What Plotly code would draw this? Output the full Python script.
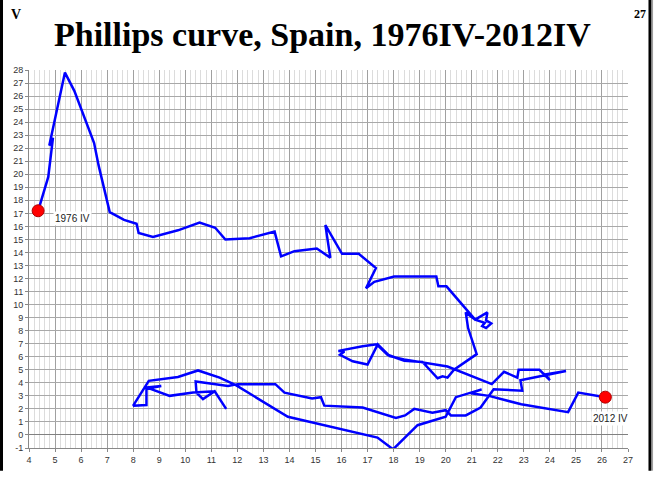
import plotly.graph_objects as go

# Unemployment rate (x) and inflation rate (y), 1976IV-2012IV path
unemployment = [
    4.35, 4.74, 4.92, 4.78, 5.38, 5.74, 6.50, 6.67, 7.10, 7.65, 8.13, 8.21, 8.76, 9.72,
    10.55, 11.15, 11.54, 12.47, 13.43, 13.68, 14.19, 15.05, 15.57, 15.38, 16.02, 16.66,
    17.32, 16.94, 17.26, 18.02, 19.64, 19.72, 20.03, 21.13, 21.60, 21.55, 21.75, 21.55,
    21.40, 21.50, 21.13, 20.77, 20.86, 21.19, 20.32, 20.07, 19.88, 19.69, 19.11, 18.41,
    17.77, 17.35, 16.81, 16.30, 15.88, 16.11, 15.94, 16.43, 17.00, 17.39, 17.85, 18.40,
    19.15, 20.07, 21.77, 22.24, 22.75, 22.80, 23.60, 24.00, 23.83, 24.62, 22.87, 22.94,
    21.84, 21.34, 20.77, 20.20, 20.00, 19.49, 18.79, 18.44, 18.09, 16.81, 15.34, 15.21,
    14.87, 13.81, 13.46, 12.02, 11.64, 10.40, 10.43, 10.68, 11.13, 11.57, 11.13, 10.30,
    9.40, 8.51, 9.08, 8.51, 8.51, 8.00, 8.60, 9.72, 10.49, 11.32, 11.96, 13.94, 17.38,
    17.98, 18.92, 20.00, 20.39, 21.38, 20.96, 21.66, 22.90, 24.70, 25.09, 26.13,
]
inflation = [
    17.2, 19.8, 22.8, 22.2, 27.8, 26.4, 22.4, 20.7, 17.1, 16.5, 16.2, 15.5, 15.2, 15.7,
    16.3, 15.9, 15.0, 15.1, 15.6, 13.7, 14.1, 14.3, 13.6, 16.1, 13.9, 13.9,
    12.8, 11.25, 11.75, 12.15, 12.15, 11.4, 11.4, 8.85, 9.4, 8.8, 8.55, 8.2,
    8.35, 8.6, 8.85, 9.4, 8.2, 6.2, 5.0, 4.4, 4.5, 4.35, 5.6, 5.7,
    6.15, 6.95, 6.8, 6.6, 6.45, 6.4, 6.15, 5.65, 5.4, 6.95, 6.05, 5.8,
    5.55, 5.25, 3.9, 4.85, 4.4, 5.0, 5.0, 4.2, 4.65, 4.9, 4.2, 3.4,
    3.5, 2.1, 1.5, 1.5, 1.9, 1.7, 2.0, 1.5, 1.3, 2.1, 2.25, 2.9,
    2.8, 3.25, 3.9, 3.9, 3.75, 4.1, 3.25, 2.75, 3.35, 2.0, 3.35, 3.25,
    3.0, 3.65, 3.75, 3.55, 2.3, 2.25, 4.15, 4.45, 4.95, 4.4, 3.8, 1.4, -0.2,
    -1.1, 0.75, 1.4, 2.9, 3.5, 3.2, 3.0, 2.35, 1.75, 3.25, 2.9,
]
end_labels = ["1976 IV", "2012 IV"]
x_ticks = list(range(4, 28))
y_ticks = list(range(-1, 29))

fig = go.Figure()
fig.add_trace(go.Scatter(
    x=unemployment, y=inflation, mode="lines",
    line=dict(color="#0000FF", width=2.5), hoverinfo="skip", showlegend=False,
))
fig.add_trace(go.Scatter(
    x=[unemployment[0], unemployment[-1]], y=[inflation[0], inflation[-1]],
    mode="markers",
    marker=dict(color="#FF0000", size=12, line=dict(color="#B00000", width=1)),
    showlegend=False, hoverinfo="skip",
))

label_font = dict(family="Liberation Sans, Arial", size=10, color="#222")
fig.add_annotation(x=unemployment[0], y=inflation[0], text=end_labels[0], showarrow=False,
                   xanchor="left", yanchor="middle", xshift=15, yshift=-8,
                   font=label_font, bgcolor="white")
fig.add_annotation(x=unemployment[-1], y=inflation[-1], text=end_labels[1], showarrow=False,
                   xanchor="center", yanchor="middle", xshift=5, yshift=-21,
                   font=label_font, bgcolor="white")

# Title and page markers (paper coords: plot spans x 29..628 px, y 70..455 px)
fig.add_annotation(xref="paper", yref="paper", x=0.49, y=1.095, xanchor="center", yanchor="middle",
                   text="<b>Phillips curve, Spain, 1976IV-2012IV</b>", showarrow=False,
                   font=dict(family="Liberation Serif, serif", size=34, color="black"))
fig.add_annotation(xref="paper", yref="paper", x=-0.022, y=1.147, xanchor="center", yanchor="middle",
                   text="<b>V</b>", showarrow=False,
                   font=dict(family="Liberation Serif, serif", size=14, color="black"))
fig.add_annotation(xref="paper", yref="paper", x=1.02, y=1.149, xanchor="center", yanchor="middle",
                   text="<b>27</b>", showarrow=False,
                   font=dict(family="Liberation Serif, serif", size=12, color="black"))

# side frame lines
fig.add_shape(type="line", xref="paper", yref="paper", x0=-0.0459, x1=-0.0459, y0=-0.06, y1=1.19,
              line=dict(color="black", width=3), layer="above")
fig.add_shape(type="line", xref="paper", yref="paper", x0=1.0367, x1=1.0367, y0=-0.06, y1=1.19,
              line=dict(color="black", width=3), layer="above")
fig.add_shape(type="line", xref="paper", yref="paper", x0=1.041, x1=1.041, y0=-0.06, y1=1.19,
              line=dict(color="#999", width=1), layer="above")

tick_font = dict(family="Liberation Sans, Arial", size=9, color="#333")
fig.update_xaxes(
    range=[4, 27], tickmode="array", tickvals=x_ticks, ticktext=[str(v) for v in x_ticks],
    showgrid=True, gridcolor="#A0A0A0", gridwidth=1,
    minor=dict(dtick=0.2, tick0=4, showgrid=True, gridcolor="#DCDCDC", gridwidth=1),
    zeroline=False, showline=True, linecolor="#888", linewidth=1,
    ticks="outside", ticklen=3, tickcolor="#888", tickfont=tick_font,
)
fig.update_yaxes(
    range=[-1, 28], tickmode="array", tickvals=y_ticks, ticktext=[str(v) for v in y_ticks],
    showgrid=True, gridcolor="#A8A8A8", gridwidth=1,
    zeroline=True, zerolinecolor="#808080", zerolinewidth=1,
    showline=True, linecolor="#888", linewidth=1,
    ticks="outside", ticklen=3, tickcolor="#888", tickfont=tick_font,
)
fig.update_layout(
    width=656, height=477,
    margin=dict(l=29, r=28, t=70, b=22),
    paper_bgcolor="white", plot_bgcolor="white",
)
fig.write_html("out.html", config={"displayModeBar": False},
               post_script="document.body.style.margin='0';document.body.style.overflow='hidden';")
